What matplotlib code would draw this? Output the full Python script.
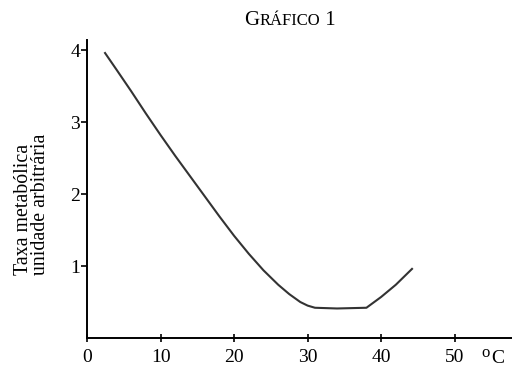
import matplotlib
matplotlib.use("Agg")
import matplotlib.pyplot as plt
from matplotlib.offsetbox import TextArea, HPacker, AnchoredOffsetbox

plt.rcParams['font.family'] = ['Liberation Serif', 'DejaVu Serif']

# temperature (oC) and metabolic rate (arbitrary units)
temp = [2.45, 4, 6, 8, 10, 12, 14, 16, 18, 20, 22, 24, 26, 27.5, 29, 30, 31, 34, 38, 40, 42, 44.2]
rate = [3.96, 3.73, 3.43, 3.12, 2.82, 2.53, 2.25, 1.97, 1.69, 1.42, 1.17, 0.94, 0.74, 0.61, 0.50,
        0.45, 0.42, 0.41, 0.42, 0.57, 0.74, 0.96]

xticks = [0, 10, 20, 30, 40, 50]
yticks = [1, 2, 3, 4]

fig = plt.figure(figsize=(5.12, 3.71), dpi=100)
ax = fig.add_axes([0.17, 0.089, 0.83, 0.803])

ax.plot(temp, rate, color='#333333', lw=1.5, solid_joinstyle='round')

ax.set_xlim(0, 57.8)
ax.set_ylim(0, 4.14)
ax.set_xticks(xticks)
ax.set_yticks(yticks)
for s in ['top', 'right']:
    ax.spines[s].set_visible(False)
for s in ['left', 'bottom']:
    ax.spines[s].set_linewidth(1.4)
ax.tick_params(axis='x', direction='inout', length=6, width=1.2, labelsize=14, pad=5)
ax.tick_params(axis='y', direction='out', length=4, width=1.2, labelsize=14, pad=1)

# y axis title, two lines aligned at their start
fig.text(32 / 512, 1 - 204 / 371, 'Taxa metabólica\nunidade arbitrária', fontsize=14.3,
         rotation=90, ha='center', va='center', multialignment='left', linespacing=0.88)

# degree label at the end of the x axis
ax.text(53.6, -0.1, 'o', fontsize=12, ha='left', va='top', clip_on=False)
ax.text(55.0, -0.17, 'C', fontsize=14, ha='left', va='top', clip_on=False)

# title in small caps
parts = [TextArea('G', textprops=dict(fontsize=15)),
         TextArea('RÁFICO', textprops=dict(fontsize=12)),
         TextArea(' 1', textprops=dict(fontsize=15))]
box = HPacker(children=parts, align='baseline', pad=0, sep=0)
anch = AnchoredOffsetbox(loc='center', child=box, frameon=False,
                         bbox_to_anchor=(0.567, 0.944), bbox_transform=fig.transFigure)
fig.add_artist(anch)

fig.savefig('out.png', dpi=100)
